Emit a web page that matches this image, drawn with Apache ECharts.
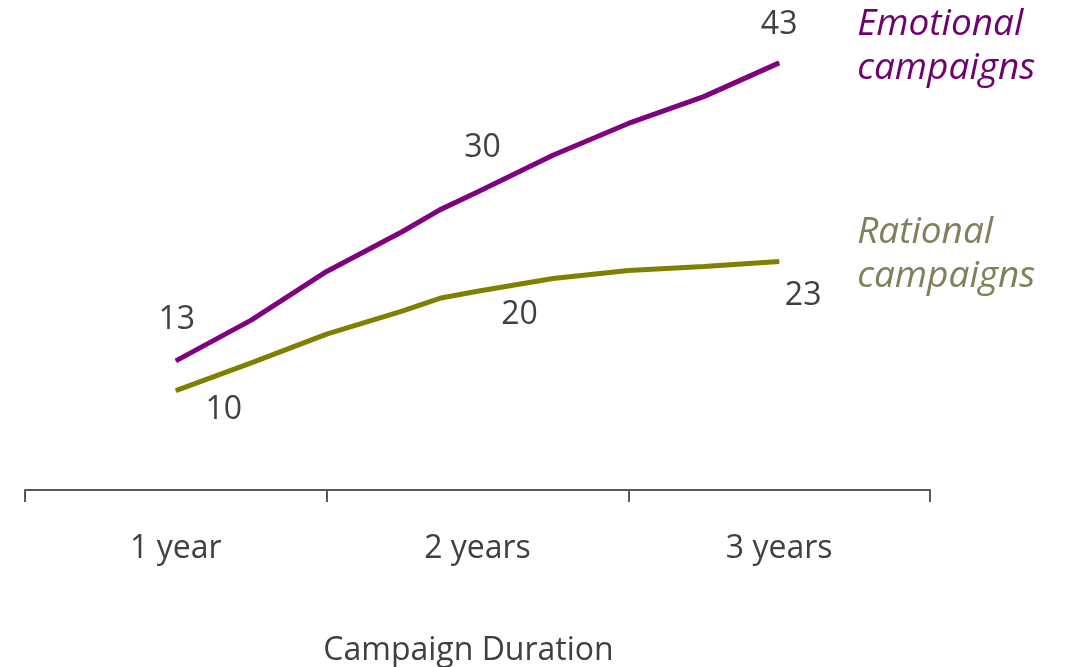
<!DOCTYPE html>
<html>
<head>
<meta charset="utf-8">
<script src="https://cdn.jsdelivr.net/npm/echarts@6/dist/echarts.min.js"></script>
<style>
  html, body { margin: 0; padding: 0; background: #fff; }
  #chart { width: 1068px; height: 667px; }
</style>
</head>
<body>
<div id="chart"></div>
<script>
// Duration categories shown on the axis
const durations = ['1 year', '2 years', '3 years'];

// Position along the duration axis (0 = start of "1 year", 3 = end of "3 years")
const emotionalX = [0.5, 0.75, 1.0, 1.25, 1.375, 1.5, 1.75, 2.0, 2.25, 2.5];
const emotionalY = [13, 17.1, 22.0, 26.0, 28.2, 30, 33.7, 36.9, 39.6, 43];

const rationalX = [0.5, 0.75, 1.0, 1.25, 1.375, 1.5, 1.75, 2.0, 2.25, 2.5];
const rationalY = [10, 12.8, 15.7, 18.0, 19.3, 20, 21.3, 22.1, 22.5, 23];

const FONT = '"Open Sans", Lato, sans-serif';
const TEXT = '#404040';

// Value labels sit at the middle of each duration category
function buildData(xs, ys, offsets) {
  return xs.map((x, i) => {
    const centre = Math.abs((x % 1) - 0.5) < 1e-9;
    const item = { value: [x, ys[i]] };
    if (centre) {
      const k = Math.floor(x);
      item.label = {
        show: true,
        position: 'inside',
        offset: offsets[k],
        formatter: String(ys[i]),
        color: TEXT,
        fontFamily: FONT,
        fontSize: 32
      };
    }
    return item;
  });
}

const chart = echarts.init(document.getElementById('chart'));
chart.setOption({
  animation: false,
  backgroundColor: '#ffffff',
  grid: { left: 25, right: 138, top: 43, bottom: 177, containLabel: false, outerBoundsMode: 'none' },
  xAxis: [
    {
      type: 'category',
      data: durations,
      boundaryGap: true,
      axisLine: { lineStyle: { color: '#595959', width: 2 } },
      axisTick: { show: true, length: 12, lineStyle: { color: '#595959', width: 2 } },
      axisLabel: { color: TEXT, fontFamily: FONT, fontSize: 32, margin: 43 },
      name: 'Campaign Duration',
      nameLocation: 'middle',
      nameGap: 145,
      nameTextStyle: { color: TEXT, fontFamily: FONT, fontSize: 32, padding: [0, 18, 0, 0] }
    },
    { type: 'value', min: 0, max: 3, show: false }
  ],
  yAxis: { type: 'value', min: 0, max: 45, show: false },
  series: [
    {
      name: 'Emotional campaigns',
      type: 'line',
      xAxisIndex: 1,
      data: buildData(emotionalX, emotionalY, [[1, -41], [5, -44], [0, -38]]),
      showSymbol: true,
      symbol: 'circle',
      symbolSize: 1,
      lineStyle: { color: '#800080', width: 5 },
      itemStyle: { color: '#800080' },
      endLabel: {
        show: true,
        formatter: p => p.seriesName.replace(' ', '\n'),
        offset: [70, -16],
        align: 'left',
        color: '#700070',
        fontFamily: FONT,
        fontStyle: 'italic',
        fontSize: 37,
        lineHeight: 44
      }
    },
    {
      name: 'Rational campaigns',
      type: 'line',
      xAxisIndex: 1,
      data: buildData(rationalX, rationalY, [[48, 19], [42, 24], [24, 34]]),
      showSymbol: true,
      symbol: 'circle',
      symbolSize: 1,
      lineStyle: { color: '#808000', width: 5 },
      itemStyle: { color: '#808000' },
      endLabel: {
        show: true,
        formatter: p => p.seriesName.replace(' ', '\n'),
        offset: [70, -7],
        align: 'left',
        color: '#80805a',
        fontFamily: FONT,
        fontStyle: 'italic',
        fontSize: 37,
        lineHeight: 44
      }
    }
  ]
});
</script>
</body>
</html>
